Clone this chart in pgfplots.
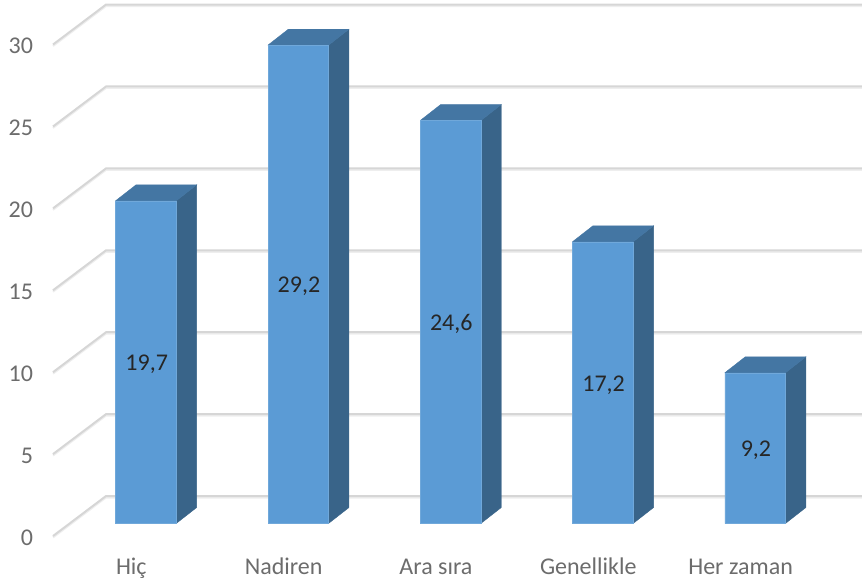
\documentclass[border=0pt]{standalone}
\usepackage{fontspec}
\setmainfont{Carlito}
\usepackage{pgfplots}
\usepackage{pgfplotstable}
\pgfplotsset{compat=1.18}

\definecolor{barfront}{RGB}{91,155,213}
\definecolor{barside}{RGB}{57,100,137}
\definecolor{bartop}{RGB}{68,118,163}
\definecolor{baredge}{RGB}{112,168,218}
\definecolor{gridc}{RGB}{214,214,214}
\definecolor{gridsh}{RGB}{238,238,238}
\definecolor{labc}{RGB}{108,108,108}

% 1 px of the reference = 0.75pt here
\pgfplotstableread{
x v lab
0 19.7 {19,7}
1 29.2 {29,2}
2 24.6 {24,6}
3 17.2 {17,2}
4 9.2 {9,2}
}\bardata

% top and side face of one bar: x, value
\newcommand{\barfaces}[2]{%
	\pgfmathsetmacro{\xl}{#1-0.2}%
	\pgfmathsetmacro{\xr}{#1+0.198}%
	\pgfmathsetmacro{\xlb}{#1-0.2+0.1346}%
	\pgfmathsetmacro{\xrb}{#1+0.198+0.1346}%
	\pgfmathsetmacro{\yb}{#2+0.977}%
	\edef\temp{\noexpand\addplot[fill=barside,draw=barside,line width=0.3pt,forget plot] coordinates {(\xr,0) (\xrb,0.977) (\xrb,\yb) (\xr,#2) (\xr,0)};
	\noexpand\addplot[fill=bartop,draw=bartop,line width=0.3pt,forget plot] coordinates {(\xl,#2) (\xlb,\yb) (\xrb,\yb) (\xr,#2) (\xl,#2)};}%
	\temp
}

% wall line of one gridline: value
\newcommand{\wall}[1]{%
	\pgfmathsetmacro{\yb}{#1+2.44}%
	\edef\temp{\noexpand\addplot[gridsh,line width=1.5pt,forget plot,yshift=-1.1pt] coordinates {(53,#1) (106,\yb) (862,\yb)};
	\noexpand\addplot[gridc,line width=1.5pt,forget plot] coordinates {(53,#1) (106,\yb) (862,\yb)};}%
	\temp
}

\begin{document}
\begin{tikzpicture}
	\path[use as bounding box] (-39.75pt,-38.25pt) rectangle (606.75pt,402pt);
	% walls and value axis, x in reference pixels
	\begin{axis}[
			scale only axis,
			width=606.75pt, height=402pt,
			xmin=53, xmax=862,
			ymin=0, ymax=32.72,
			clip=false,
			axis line style={draw=none},
			xtick=\empty,
			ytick={0,5,...,30},
			tick style={draw=none},
			/pgf/number format/assume math mode=true,
			yticklabel style={font=\fontsize{18}{20}\selectfont, text=labc, anchor=east, xshift=-11.5pt, yshift=-1pt},
		]
		\wall{0}
		\wall{5}
		\wall{10}
		\wall{15}
		\wall{20}
		\wall{25}
		\wall{30}
	\end{axis}
	% bars, same box, floor of the bars lies above the front corner
	\begin{axis}[
			scale only axis,
			width=606.75pt, height=402pt,
			xmin=-0.6107, xmax=4.701,
			ymin=-0.763, ymax=31.96,
			clip=false,
			axis line style={draw=none},
			xtick={0,1,2,3,4},
			xticklabels={Hiç,Nadiren,Ara sıra,Genellikle,Her zaman},
			ytick=\empty,
			tick style={draw=none},
			xticklabel style={font=\fontsize{18}{20}\selectfont, text=labc, text height=12pt, text depth=4pt, xshift=-11pt, yshift=-13pt},
		]
		\barfaces{0}{19.7}
		\barfaces{1}{29.2}
		\barfaces{2}{24.6}
		\barfaces{3}{17.2}
		\barfaces{4}{9.2}
		\addplot[ybar, bar width=45.4pt, fill=barfront, draw=baredge, line width=0.4pt] table[x=x, y=v] {\bardata};
		\addplot[only marks, mark=none, nodes near coords, point meta=explicit symbolic,
			nodes near coords style={font=\fontsize{18}{20}\selectfont, text=black!85, anchor=center, xshift=0.5pt, yshift=-1.7pt}]
			table[x=x, y expr=\thisrow{v}/2, meta=lab] {\bardata};
	\end{axis}
\end{tikzpicture}
\end{document}
